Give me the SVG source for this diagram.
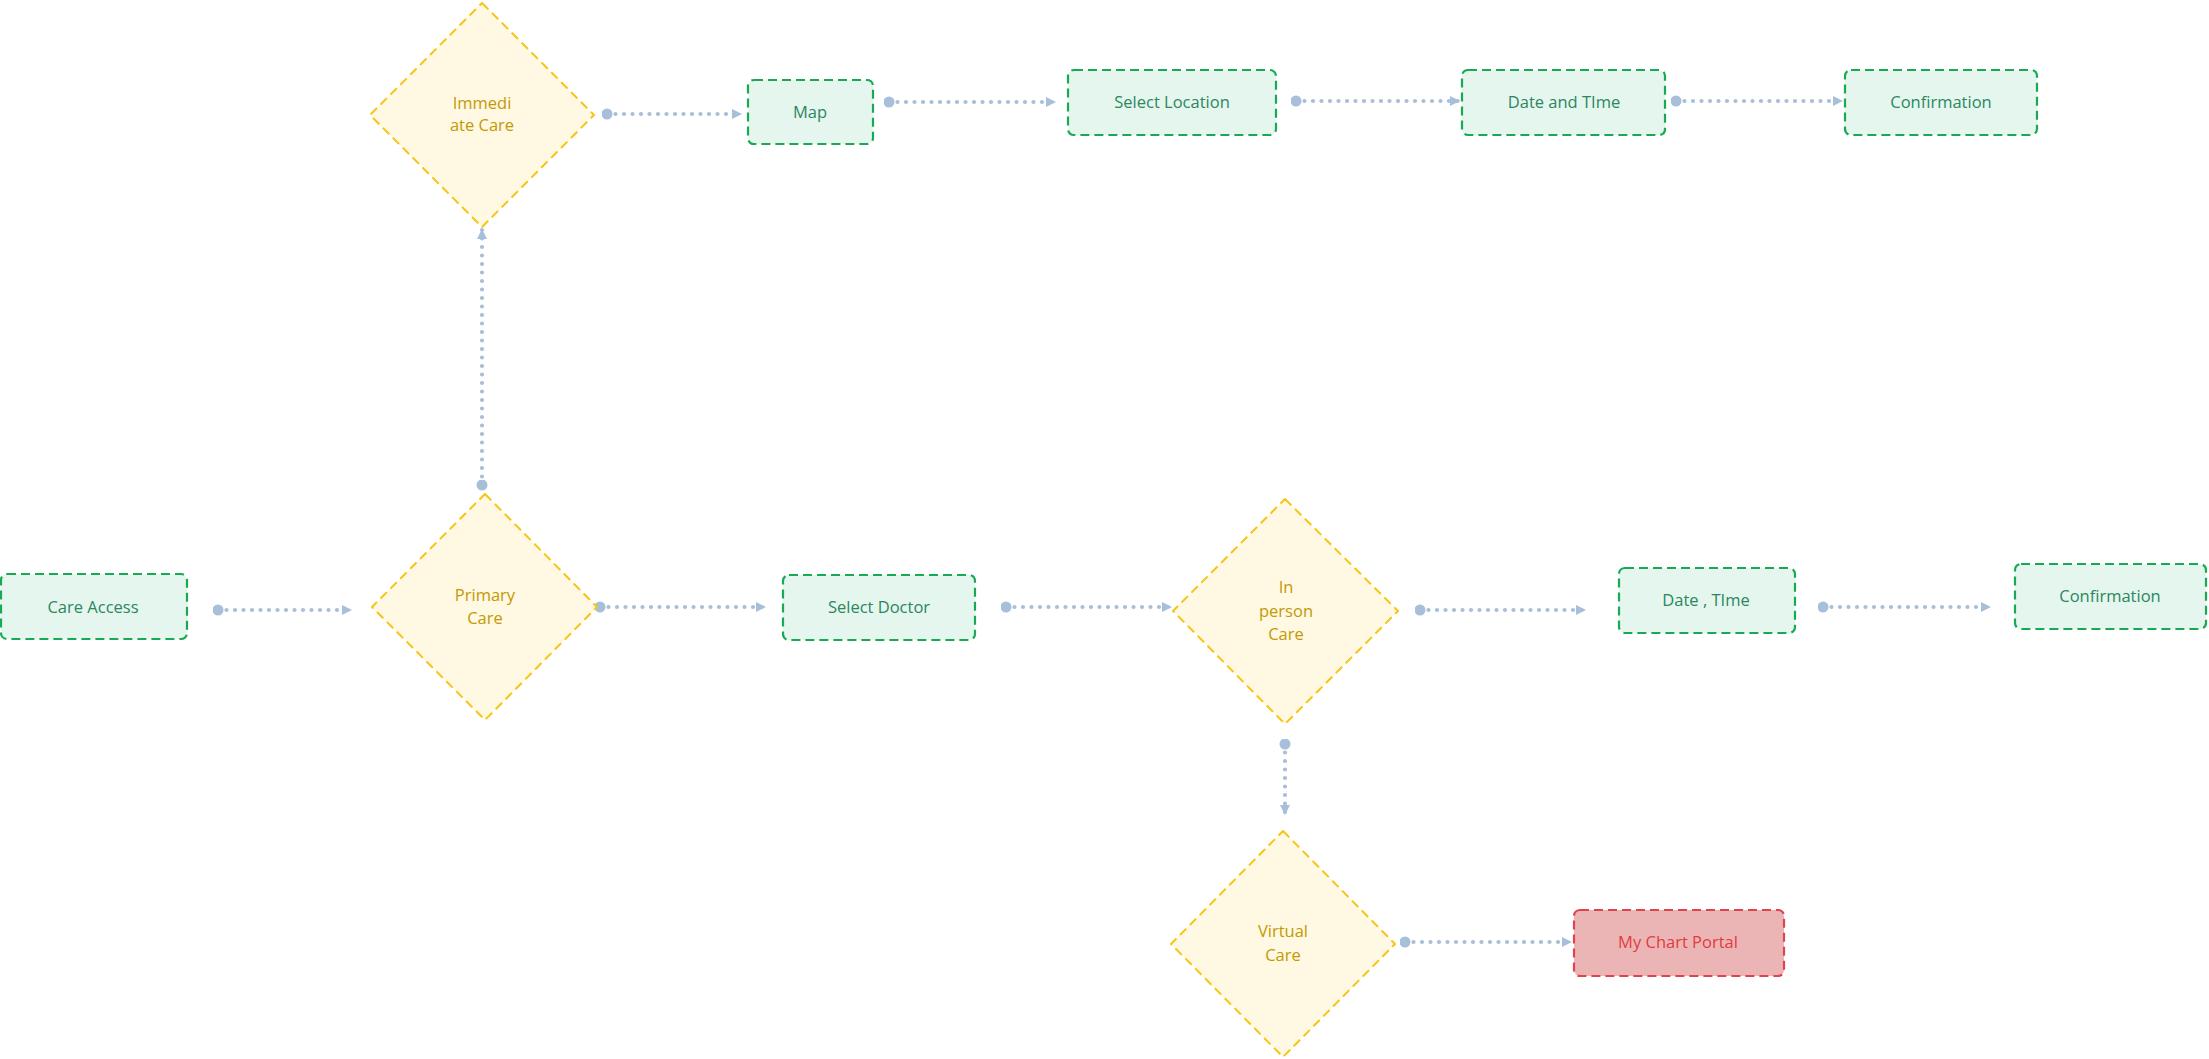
<svg xmlns="http://www.w3.org/2000/svg" width="2209" height="1059" viewBox="0 0 2209 1059">
<style>
.box{fill:#e5f6ee;stroke:#17a953;stroke-width:2.2;stroke-dasharray:9 5}
.dia{fill:#fff8e2;stroke:#f6c515;stroke-width:2;stroke-dasharray:9 5}
.red{fill:#ecb5b5;stroke:#e0434b;stroke-width:2.2;stroke-dasharray:9 5}
text{font-family:"Open Sans","Liberation Sans",sans-serif;font-size:16.5px;text-anchor:middle}
.tb{fill:#2b8760}
.td{fill:#c49904}
.tr{fill:#e23b3f}
.con{fill:none;stroke:#a7bfd8;stroke-width:4.2;stroke-linecap:round;stroke-dasharray:0 8.5;marker-start:url(#dot);marker-end:url(#arr)}
</style>
<defs>
<marker id="arr" viewBox="0 0 10 10" refX="10" refY="5" markerWidth="10" markerHeight="12" orient="auto" markerUnits="userSpaceOnUse">
<path d="M0,0 L10,5 L0,10 z" fill="#a7bfd8"/>
</marker>
<marker id="dot" viewBox="0 0 12 12" refX="6" refY="6" markerWidth="11" markerHeight="12" orient="auto" markerUnits="userSpaceOnUse">
<ellipse cx="6" cy="6" rx="6" ry="6" fill="#a7bfd8"/>
</marker>
</defs>
<rect width="2209" height="1059" fill="#ffffff"/>
<g id="connectors">
<path class="con" d="M607,114 L742,114"/>
<path class="con" d="M889,102 L1056,102"/>
<path class="con" d="M1296,101 L1460,101"/>
<path class="con" d="M1676,101 L1843,101"/>
<path class="con" d="M218,610 L352,610"/>
<path class="con" d="M482,485 L482,229"/>
<path class="con" d="M600,607 L766,607"/>
<path class="con" d="M1006,607 L1172,607"/>
<path class="con" d="M1420,610 L1586,610"/>
<path class="con" d="M1823,607 L1991,607"/>
<path class="con" d="M1285,744 L1285,815"/>
<path class="con" d="M1405,942 L1572,942"/>
</g>
<g id="immediate-care">
<path class="dia" d="M482,3 L594,115 L482,227 L370,115 Z" stroke-linejoin="round"/>
<text class="td" x="482" y="109">Immedi</text>
<text class="td" x="482" y="131">ate Care</text>
</g>
<g id="map">
<rect class="box" x="748" y="80" width="125" height="64" rx="6"/>
<text class="tb" x="810" y="118">Map</text>
</g>
<g id="select-location">
<rect class="box" x="1068" y="70" width="208" height="65" rx="6"/>
<text class="tb" x="1172" y="108">Select Location</text>
</g>
<g id="date-and-time">
<rect class="box" x="1462" y="70" width="203" height="65" rx="6"/>
<text class="tb" x="1564" y="108">Date and TIme</text>
</g>
<g id="confirmation-1">
<rect class="box" x="1845" y="70" width="192" height="65" rx="6"/>
<text class="tb" x="1941" y="108">Confirmation</text>
</g>
<g id="care-access">
<rect class="box" x="1" y="574" width="186" height="65" rx="6"/>
<text class="tb" x="93" y="613">Care Access</text>
</g>
<g id="primary-care">
<path class="dia" d="M485,494 L597,607 L485,720 L372,607 Z" stroke-linejoin="round"/>
<text class="td" x="485" y="601">Primary</text>
<text class="td" x="485" y="624">Care</text>
</g>
<g id="select-doctor">
<rect class="box" x="783" y="575" width="192" height="65" rx="6"/>
<text class="tb" x="879" y="613">Select Doctor</text>
</g>
<g id="in-person-care">
<path class="dia" d="M1285,499 L1398,611 L1285,724 L1173,611 Z" stroke-linejoin="round"/>
<text class="td" x="1286" y="593">In</text>
<text class="td" x="1286" y="617">person</text>
<text class="td" x="1286" y="640">Care</text>
</g>
<g id="date-time">
<rect class="box" x="1619" y="568" width="176" height="65" rx="6"/>
<text class="tb" x="1706" y="606">Date , TIme</text>
</g>
<g id="confirmation-2">
<rect class="box" x="2015" y="564" width="191" height="65" rx="6"/>
<text class="tb" x="2110" y="602">Confirmation</text>
</g>
<g id="virtual-care">
<path class="dia" d="M1283,831 L1395,944 L1283,1057 L1171,944 Z" stroke-linejoin="round"/>
<text class="td" x="1283" y="937">Virtual</text>
<text class="td" x="1283" y="961">Care</text>
</g>
<g id="my-chart-portal">
<rect class="red" x="1574" y="910" width="210" height="66" rx="6"/>
<text class="tr" x="1678" y="948">My Chart Portal</text>
</g>
</svg>
